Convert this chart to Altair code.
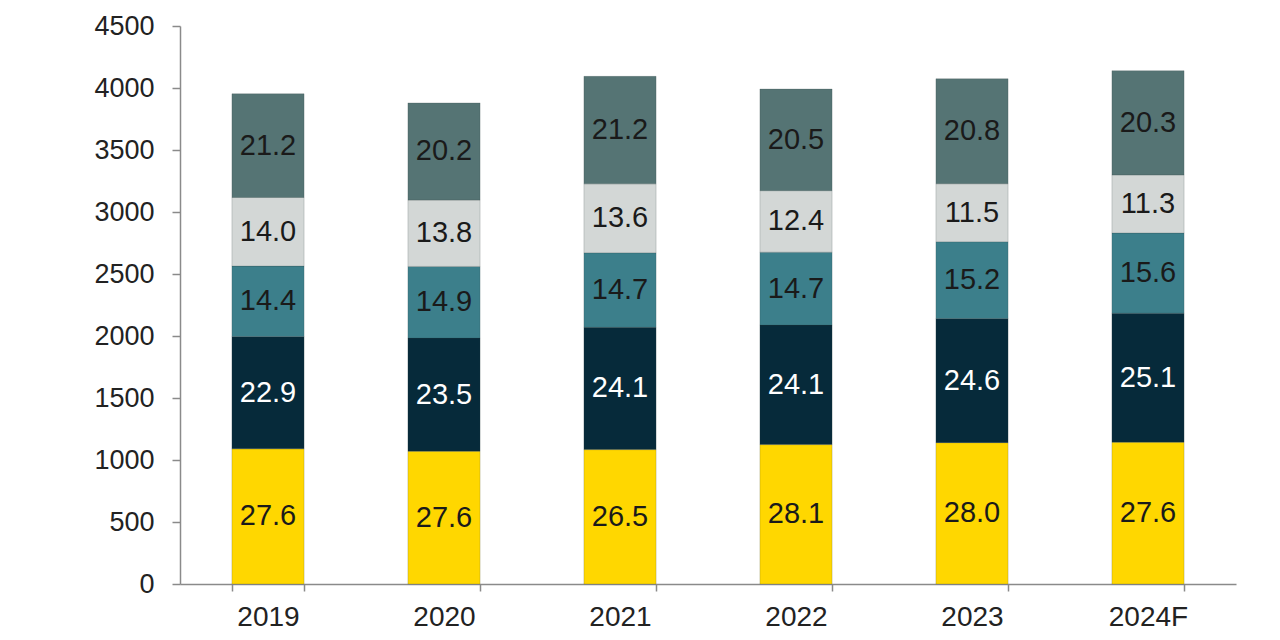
import altair as alt
import pandas as pd

years = ["2019", "2020", "2021", "2022", "2023", "2024F"]
segments = ["Segment 1", "Segment 2", "Segment 3", "Segment 4", "Segment 5"]  # bottom to top
colors = ["#FFD700", "#062A3A", "#3C7F8B", "#D3D7D6", "#557474"]
text_colors = ["#1a1a1a", "#ffffff", "#1a1a1a", "#1a1a1a", "#1a1a1a"]

# segment values
seg1_vals = [1090, 1071, 1084, 1124, 1140, 1144]
seg2_vals = [905, 912, 986, 964, 1001, 1040]
seg3_vals = [569, 578, 601, 588, 619, 647]
seg4_vals = [553, 535, 556, 496, 468, 468]
seg5_vals = [837, 784, 867, 820, 847, 841]

# share labels printed on the segments
seg1_pct = [27.6, 27.6, 26.5, 28.1, 28.0, 27.6]
seg2_pct = [22.9, 23.5, 24.1, 24.1, 24.6, 25.1]
seg3_pct = [14.4, 14.9, 14.7, 14.7, 15.2, 15.6]
seg4_pct = [14.0, 13.8, 13.6, 12.4, 11.5, 11.3]
seg5_pct = [21.2, 20.2, 21.2, 20.5, 20.8, 20.3]

vals = [seg1_vals, seg2_vals, seg3_vals, seg4_vals, seg5_vals]
pcts = [seg1_pct, seg2_pct, seg3_pct, seg4_pct, seg5_pct]

rows = []
for si, seg in enumerate(segments):
    for yi, yr in enumerate(years):
        rows.append({
            "year": yr,
            "segment": seg,
            "order": si,
            "value": vals[si][yi],
            "label": f"{pcts[si][yi]:.1f}",
            "tcolor": text_colors[si],
        })
df = pd.DataFrame(rows)

FONT = "Liberation Sans"

base = alt.Chart(df).transform_stack(
    stack="value", groupby=["year"], sort=[alt.SortField("order")], as_=["y0", "y1"]
).transform_calculate(mid="(datum.y0 + datum.y1) / 2")

x_enc = alt.X(
    "year:N",
    sort=years,
    title=None,
    scale=alt.Scale(paddingInner=0.59, paddingOuter=0.295),
    axis=alt.Axis(
        labelAngle=0, tickBand="extent", tickSize=7, labelPadding=12,
        labelFontSize=28, labelFont=FONT, labelColor="#222222",
        domainColor="#8a8a8a", tickColor="#8a8a8a", domainWidth=1.5, tickWidth=1.5,
    ),
)

bars = base.mark_bar(stroke="#2b3b3b", strokeWidth=0.4, strokeOpacity=0.5).encode(
    x=x_enc,
    y=alt.Y(
        "y0:Q",
        title=None,
        scale=alt.Scale(domain=[0, 4500], nice=False),
        axis=alt.Axis(
            values=list(range(0, 4501, 500)), format="d", grid=False, tickSize=8, labelPadding=18,
            labelFontSize=27, labelFont=FONT, labelColor="#222222",
            domainColor="#8a8a8a", tickColor="#8a8a8a", domainWidth=1.5, tickWidth=1.5,
        ),
    ),
    y2="y1:Q",
    color=alt.Color("segment:N", scale=alt.Scale(domain=segments, range=colors), legend=None),
)

labels = base.mark_text(font=FONT, fontSize=29, baseline="middle", align="center").encode(
    x=alt.X("year:N", sort=years),
    y="mid:Q",
    text="label:N",
    color=alt.Color("tcolor:N", scale=None),
)

chart = alt.layer(bars, labels).properties(
    width=1056,
    height=558,
    padding={"left": 172, "top": 18, "right": 20, "bottom": 52},
    autosize=alt.AutoSizeParams(type="none"),
).configure_view(stroke=None)

chart.save("out.html", embed_options={"renderer": "svg", "actions": False})
